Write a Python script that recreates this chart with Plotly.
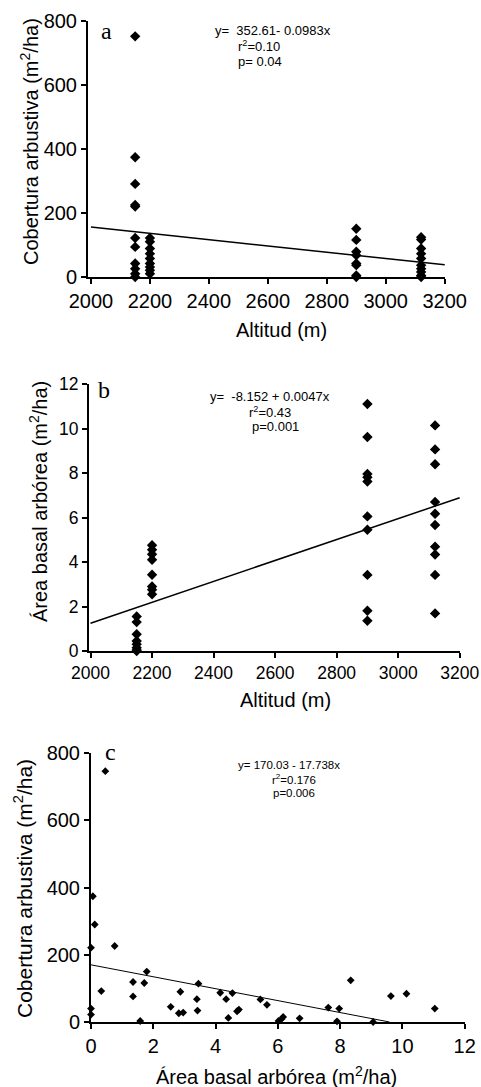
import plotly.graph_objects as go

# Panel a / b: values per altitude site
alt_sites = [2150, 2200, 2900, 3120]
cob_sites = [
    [752, 374, 291, 225, 220, 122, 94, 42, 26, 10, 0],
    [122, 110, 89, 73, 58, 42, 31, 21, 10],
    [151, 116, 79, 68, 42, 37, 5, 0],
    [124, 117, 89, 73, 58, 37, 26, 16, 5, 0],
]
basal_sites = [
    [1.55, 1.3, 0.75, 0.45, 0.3, 0.15, 0.05, 0.0],
    [4.75, 4.55, 4.35, 4.1, 3.43, 2.9, 2.75, 2.55],
    [11.1, 9.62, 7.96, 7.81, 7.62, 6.05, 5.45, 3.42, 1.81, 1.36],
    [10.14, 9.06, 8.39, 6.7, 6.17, 5.66, 4.69, 4.34, 3.42, 1.69],
]

# Panel c: basal area vs shrub cover
basal_c = [0.46, 0.06, 0.12, 0.0, 0.76, 0.0, 0.0, 0.33, 1.35, 1.35, 1.58, 1.71,
           1.79, 2.56, 2.87, 2.82, 2.96, 3.40, 3.45, 3.42, 4.15, 4.34, 4.41, 4.54,
           4.69, 4.75, 5.44, 5.65, 6.02, 6.12, 6.17, 6.70, 7.62, 7.97, 7.90, 8.34,
           9.06, 9.63, 10.13, 11.04]
cob_c = [746, 374, 290, 221, 226, 40, 22, 92, 119, 76, 3, 116,
         150, 45, 90, 26, 28, 68, 114, 34, 87, 68, 12, 86,
         32, 37, 67, 51, 3, 9, 15, 11, 43, 40, 2, 124,
         0, 77, 84, 40]

# regression coefficients (from the printed equations)
fit_a = (352.61, -0.0983)
fit_b = (-8.152, 0.0047)
fit_c = (170.03, -17.738)

W, H = 481, 1087
FONT = "Liberation Sans, Arial, sans-serif"


def px(x):
    return x / W


def py(y):
    return 1 - y / H


def expand(sites, values):
    xs, ys = [], []
    for s, vals in zip(sites, values):
        xs += [s] * len(vals)
        ys += vals
    return xs, ys


fig = go.Figure()

xa, ya = expand(alt_sites, cob_sites)
xb, yb = expand(alt_sites, basal_sites)

marker_big = dict(symbol="diamond", size=8, color="black")
marker_small = dict(symbol="diamond", size=6, color="black")

fig.add_trace(go.Scatter(x=xa, y=ya, mode="markers", marker=marker_big,
                         cliponaxis=False, xaxis="x", yaxis="y"))
fig.add_trace(go.Scatter(x=[2000, 3200], y=[fit_a[0] + fit_a[1] * 2000, fit_a[0] + fit_a[1] * 3200],
                         mode="lines", line=dict(color="black", width=1.5), xaxis="x", yaxis="y"))

fig.add_trace(go.Scatter(x=xb, y=yb, mode="markers", marker=marker_big,
                         cliponaxis=False, xaxis="x2", yaxis="y2"))
fig.add_trace(go.Scatter(x=[2000, 3200], y=[fit_b[0] + fit_b[1] * 2000, fit_b[0] + fit_b[1] * 3200],
                         mode="lines", line=dict(color="black", width=1.5), xaxis="x2", yaxis="y2"))

fig.add_trace(go.Scatter(x=basal_c, y=cob_c, mode="markers", marker=marker_small,
                         cliponaxis=False, xaxis="x3", yaxis="y3"))
x_end = -fit_c[0] / fit_c[1]
fig.add_trace(go.Scatter(x=[0, x_end], y=[fit_c[0], 0],
                         mode="lines", line=dict(color="black", width=1), xaxis="x3", yaxis="y3"))

axis_common = dict(showline=True, linecolor="black", linewidth=2, ticks="outside",
                   ticklen=5, tickwidth=2, tickcolor="black", showgrid=False,
                   zeroline=False, ticklabeloverflow="allow", automargin=False,
                   fixedrange=True)
font_big = dict(family=FONT, size=20, color="black")
font_mid = dict(family=FONT, size=17.5, color="black")

fig.update_layout(
    width=W, height=H, margin=dict(l=0, r=0, t=0, b=0),
    paper_bgcolor="white", plot_bgcolor="white", showlegend=False,
    xaxis=dict(axis_common, domain=[px(88), px(445)], range=[1990, 3201],
               tickvals=list(range(2000, 3201, 200)), tickfont=font_big, anchor="y"),
    yaxis=dict(axis_common, domain=[py(277), py(21)], range=[0, 800],
               tickvals=[0, 200, 400, 600, 800], tickfont=font_big, anchor="x"),
    xaxis2=dict(axis_common, domain=[px(89), px(460)], range=[1995, 3201],
                tickvals=list(range(2000, 3201, 200)), tickfont=font_mid, anchor="y2"),
    yaxis2=dict(axis_common, domain=[py(651), py(384)], range=[0, 12],
                tickvals=[0, 2, 4, 6, 8, 10, 12], tickfont=font_mid, anchor="x2"),
    xaxis3=dict(axis_common, domain=[px(91), px(465)], range=[0, 12.01],
                tickvals=[0, 2, 4, 6, 8, 10, 12], tickfont=font_big, anchor="y3"),
    yaxis3=dict(axis_common, domain=[py(1022), py(753)], range=[0, 800],
                tickvals=[0, 200, 400, 600, 800], tickfont=font_big, anchor="x3"),
)

annotations = [
    # axis titles
    dict(x=281, y=330, text="Altitud (m)", size=20),
    dict(x=285, y=700, text="Altitud (m)", size=20),
    dict(x=276, y=1075, text="Área basal arbórea (m<sup>2</sup>/ha)", size=20),
    dict(x=30, y=142, text="Cobertura arbustiva (m<sup>2</sup>/ha)", size=20, angle=-90),
    dict(x=38, y=502, text="Área basal arbórea (m<sup>2</sup>/ha)", size=20, angle=-90),
    dict(x=23, y=889, text="Cobertura arbustiva (m<sup>2</sup>/ha)", size=21, angle=-90),
    # equations
    dict(x=273, y=31, text="y=  352.61- 0.0983x", size=13),
    dict(x=259, y=46, text="r<sup>2</sup>=0.10", size=13),
    dict(x=260, y=61, text="p= 0.04", size=13),
    dict(x=270, y=397, text="y=  -8.152 + 0.0047x", size=13),
    dict(x=270, y=412, text="r<sup>2</sup>=0.43", size=13),
    dict(x=275, y=427, text="p=0.001", size=13),
    dict(x=289, y=765, text="y= 170.03 - 17.738x", size=11.5),
    dict(x=294, y=779, text="r<sup>2</sup>=0.176", size=11.5),
    dict(x=294, y=793, text="p=0.006", size=11.5),
]
for a in annotations:
    fig.add_annotation(x=px(a["x"]), y=py(a["y"]), xref="paper", yref="paper", text=a["text"],
                       showarrow=False, textangle=a.get("angle", 0),
                       xanchor="center", yanchor="middle", borderpad=0,
                       font=dict(family=FONT, size=a["size"], color="black"))

# panel letters
for letter, (lx, ly) in zip(["a", "b", "c"], [(106, 31), (104, 390), (110, 752)]):
    fig.add_annotation(x=px(lx), y=py(ly), xref="paper", yref="paper", text=letter,
                       showarrow=False, xanchor="center", yanchor="middle",
                       font=dict(family="Liberation Serif, Times New Roman, serif", size=24, color="black"))

# drop the default page margin so the figure fills the window exactly
fig.write_html("out.html", config={"displayModeBar": False},
               post_script="document.body.style.margin = '0';")
